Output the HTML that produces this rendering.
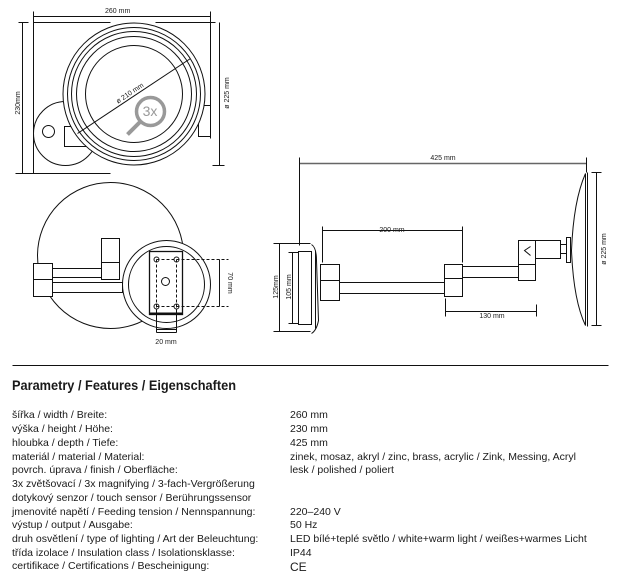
<!DOCTYPE html>
<html><head><meta charset="utf-8"><style>
html,body{margin:0;padding:0;background:#fff;width:622px;height:580px;overflow:hidden}
svg{position:absolute;left:0;top:0}
.t{font-family:"Liberation Sans",sans-serif;fill:#1a1a1a}
</style></head><body>
<svg width="622" height="580" viewBox="0 0 622 580">
<g fill="none" stroke="#111" stroke-width="1" transform="translate(0.5,0.5)">
<!-- top view -->
<line x1="33" y1="16" x2="210" y2="16"/><line x1="33" y1="11" x2="33" y2="22"/><line x1="210" y1="11" x2="210" y2="22"/>
<line x1="33" y1="22" x2="110" y2="22"/><line x1="155" y1="22" x2="215" y2="22"/>
<line x1="33" y1="22" x2="33" y2="173"/><line x1="210" y1="22" x2="210" y2="138"/>
<line x1="15" y1="173" x2="110" y2="173"/><line x1="22" y1="22" x2="22" y2="173"/><line x1="18" y1="22" x2="28" y2="22"/>
<line x1="219" y1="22" x2="219" y2="165"/><line x1="212" y1="165" x2="224" y2="165"/>
<circle cx="65" cy="133" r="32" fill="#fff"/>
<circle cx="48" cy="131" r="6"/>
<rect x="64" y="126" width="30" height="20" fill="#fff"/>
<rect x="198" y="105" width="12" height="31"/>
<circle cx="133.5" cy="93.5" r="71" fill="#fff"/>
<circle cx="133.5" cy="93.5" r="66.5"/>
<circle cx="133.5" cy="93.5" r="62.5"/>
<circle cx="133.5" cy="93.5" r="57.5"/>
<circle cx="133.5" cy="93.5" r="48.5"/>
<line x1="77" y1="133" x2="190" y2="58"/>
<g stroke="#999" stroke-width="3.5"><circle cx="150" cy="111" r="14"/><line x1="140" y1="121" x2="127" y2="134" stroke-width="4"/></g>
<!-- front view -->
<circle cx="110" cy="255" r="73"/>
<rect x="33" y="263" width="19" height="33" fill="#fff"/><line x1="33" y1="279" x2="52" y2="279"/>
<rect x="52" y="268" width="50" height="9"/>
<rect x="52" y="282" width="70" height="10"/>
<rect x="101" y="238" width="18" height="41" fill="#fff"/><line x1="101" y1="262" x2="119" y2="262"/>
<circle cx="166" cy="284" r="44" fill="#fff"/>
<circle cx="166" cy="284" r="38"/>
<rect x="149" y="251" width="33" height="63" stroke-width="1.3"/>
<line x1="149" y1="313" x2="182" y2="313" stroke-width="2"/>
<circle cx="165" cy="281" r="4"/>
<g stroke-dasharray="3,2"><line x1="156" y1="259" x2="156" y2="332"/><line x1="176" y1="259" x2="176" y2="332"/>
<line x1="156" y1="259" x2="228" y2="259"/><line x1="156" y1="306" x2="228" y2="306"/></g>
<circle cx="156" cy="259" r="2.5"/><circle cx="176" cy="259" r="2.5"/><circle cx="156" cy="306" r="2.5"/><circle cx="176" cy="306" r="2.5"/>
<rect x="156" y="314" width="20" height="15"/>
<line x1="219" y1="259" x2="219" y2="306"/>
<line x1="156" y1="332" x2="176" y2="332"/>
<!-- side view -->
<line x1="299" y1="163" x2="586" y2="163" stroke="#666" stroke-width="1.5"/>
<line x1="299" y1="157" x2="299" y2="245"/><line x1="586" y1="157" x2="586" y2="172"/>
<rect x="298" y="251" width="13" height="73"/>
<path d="M311 244 Q316 247 316 260 L318 320 Q316 330 311 333"/>
<path d="M315 250 L315 328"/>
<line x1="279" y1="243" x2="279" y2="331"/><line x1="273" y1="243" x2="310" y2="243"/><line x1="273" y1="331" x2="310" y2="331"/>
<line x1="292" y1="252" x2="292" y2="323"/><line x1="288" y1="252" x2="298" y2="252"/><line x1="288" y1="323" x2="298" y2="323"/>
<rect x="320" y="264" width="19" height="36"/><line x1="320" y1="280" x2="339" y2="280"/>
<rect x="339" y="282" width="106" height="11"/>
<rect x="444" y="264" width="18" height="32" fill="#fff"/><line x1="444" y1="278" x2="462" y2="278"/>
<rect x="462" y="266" width="57" height="11"/>
<rect x="518" y="240" width="17" height="40" fill="#fff"/><line x1="518" y1="264" x2="535" y2="264"/>
<path d="M530 246 L524 250 L530 255"/>
<rect x="535" y="240" width="25" height="18"/>
<rect x="560" y="244" width="6" height="9"/>
<rect x="566" y="237" width="4" height="25"/>
<path d="M585 173 Q573 200 571 250 Q573 300 585 325 Z" fill="#fff"/>
<line x1="587" y1="172" x2="587" y2="326"/>
<line x1="596" y1="172" x2="596" y2="325"/><line x1="591" y1="172" x2="601" y2="172"/><line x1="591" y1="325" x2="601" y2="325"/>
<line x1="322" y1="230" x2="462" y2="230"/><line x1="322" y1="226" x2="322" y2="262"/><line x1="462" y1="226" x2="462" y2="262"/>
<line x1="445" y1="311" x2="536" y2="311"/><line x1="445" y1="298" x2="445" y2="316"/><line x1="536" y1="304" x2="536" y2="316"/>
<line x1="12" y1="365" x2="608" y2="365"/>
</g>
<g class="t" font-size="7">
<text x="105" y="13">260 mm</text>
<text transform="translate(20,103) rotate(-90)" text-anchor="middle">230mm</text>
<text transform="translate(229,93) rotate(-90)" text-anchor="middle">ø 225 mm</text>
<text transform="translate(131,95) rotate(-34)" text-anchor="middle">ø 210 mm</text>
<text transform="translate(228,283) rotate(90)" text-anchor="middle">70 mm</text>
<text x="166" y="344" text-anchor="middle">20 mm</text>
<text x="443" y="160" text-anchor="middle">425 mm</text>
<text x="392" y="232" text-anchor="middle">200 mm</text>
<text x="492" y="318" text-anchor="middle">130 mm</text>
<text transform="translate(278,287) rotate(-90)" text-anchor="middle">125mm</text>
<text transform="translate(291,287) rotate(-90)" text-anchor="middle">105 mm</text>
<text transform="translate(606,249) rotate(-90)" text-anchor="middle">ø 225 mm</text>
</g>
<text x="150" y="116" class="t" font-size="14" style="fill:#999" text-anchor="middle">3x</text>
<text x="12" y="390" class="t" font-size="14" font-weight="bold" textLength="224" lengthAdjust="spacingAndGlyphs">Parametry / Features / Eigenschaften</text>
<g class="t" font-size="10.5">
<text x="12" y="418">šířka / width / Breite:</text>
<text x="12" y="432">výška / height / Höhe:</text>
<text x="12" y="446">hloubka / depth / Tiefe:</text>
<text x="12" y="460">materiál / material / Material:</text>
<text x="12" y="473">povrch. úprava / finish / Oberfläche:</text>
<text x="12" y="487">3x zvětšovací / 3x magnifying / 3-fach-Vergrößerung</text>
<text x="12" y="501">dotykový senzor / touch sensor / Berührungssensor</text>
<text x="12" y="515">jmenovité napětí / Feeding tension / Nennspannung:</text>
<text x="12" y="528">výstup / output / Ausgabe:</text>
<text x="12" y="542">druh osvětlení / type of lighting / Art der Beleuchtung:</text>
<text x="12" y="556">třída izolace / Insulation class / Isolationsklasse:</text>
<text x="12" y="569">certifikace / Certifications / Bescheinigung:</text>
<text x="290" y="418">260 mm</text>
<text x="290" y="432">230 mm</text>
<text x="290" y="446">425 mm</text>
<text x="290" y="460">zinek, mosaz, akryl / zinc, brass, acrylic / Zink, Messing, Acryl</text>
<text x="290" y="473">lesk / polished / poliert</text>
<text x="290" y="515">220–240 V</text>
<text x="290" y="528">50 Hz</text>
<text x="290" y="542">LED bílé+teplé světlo / white+warm light / weißes+warmes Licht</text>
<text x="290" y="556">IP44</text>
<text x="290" y="571" font-size="12">CE</text>
</g>
</svg>
</body></html>
